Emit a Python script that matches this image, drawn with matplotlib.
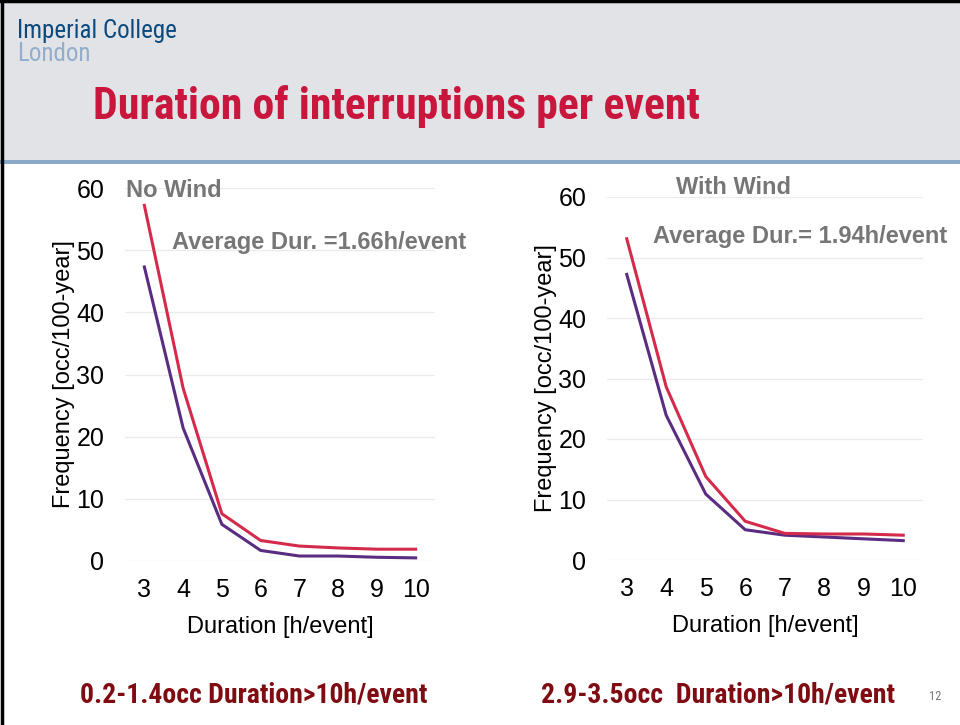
import matplotlib.pyplot as plt
from matplotlib.patches import Rectangle
from matplotlib.lines import Line2D

# durations [h/event]
durations = [3, 4, 5, 6, 7, 8, 9, 10]

# no wind
nowind_red = [57.2, 27.8, 7.6, 3.3, 2.4, 2.1, 1.9, 1.9]
nowind_purple = [47.3, 21.4, 5.9, 1.7, 0.8, 0.8, 0.6, 0.5]

# with wind
wind_red = [53.1, 28.6, 13.8, 6.4, 4.4, 4.3, 4.3, 4.1]
wind_purple = [47.2, 23.9, 10.9, 5.0, 4.1, 3.8, 3.5, 3.2]

plt.rcParams['font.family'] = ['Liberation Sans', 'DejaVu Sans']

RED = '#D42A4C'
PURPLE = '#5A2D82'
GREY = '#767676'
DARKRED = '#7E0C12'

fig = plt.figure(figsize=(9.6, 7.25), dpi=100)

# header band
fig.patches.append(Rectangle((0, 1 - 160 / 725), 1, 160 / 725, transform=fig.transFigure,
                             facecolor='#E1E3E7', edgecolor='none', zorder=0))
fig.patches.append(Rectangle((0, 1 - 164 / 725), 1, 4 / 725, transform=fig.transFigure,
                             facecolor='#8CA8C8', edgecolor='none', zorder=1))
# black slide border (top and left)
fig.lines.append(Line2D([0, 1], [0.998, 0.998], transform=fig.transFigure, color='black', lw=2.5))
fig.lines.append(Line2D([0.002, 0.002], [0, 1], transform=fig.transFigure, color='black', lw=2.5))

narrow = ['Roboto Condensed', 'DejaVu Sans']
fig.text(17 / 960, 1 - 31 / 725, 'Imperial College', family=narrow, fontsize=18,
         color='#0B4A7E', va='center', ha='left')
fig.text(17 / 960, 1 - 54 / 725, 'London', family=narrow, fontsize=18,
         color='#93AECB', va='center', ha='left')
fig.text(93 / 960, 1 - 106 / 725, 'Duration of interruptions per event', family=narrow,
         fontsize=31.5, fontweight='bold', color='#C8163C', va='center', ha='left')


def panel(rect, red, purple):
    ax = fig.add_axes(rect)
    ax.plot(durations, purple, color=PURPLE, lw=2.2)
    ax.plot(durations, red, color=RED, lw=2.2)
    ax.set_xlim(2.5, 10.5)
    ax.set_ylim(0, 60)
    ax.set_xticks(durations)
    ax.set_yticks(range(0, 61, 10))
    ax.grid(True, axis='y', color='#EBEBEB', lw=1)
    ax.set_axisbelow(True)
    for s in ax.spines.values():
        s.set_visible(False)
    ax.tick_params(length=0, labelsize=18, pad=12)
    ax.tick_params(axis='y', pad=15)
    ax.set_xlabel('Duration [h/event]', fontsize=17, labelpad=10)
    ax.set_ylabel('Frequency [occ/100-year]', fontsize=17, labelpad=1)
    return ax


ax1 = panel([125 / 960, 1 - 561 / 725, 310 / 960, 373 / 725], nowind_red, nowind_purple)
ax2 = panel([607 / 960, 1 - 560 / 725, 316 / 960, 363 / 725], wind_red, wind_purple)

fig.text(126 / 960, 1 - 190 / 725, 'No Wind', fontsize=17, fontweight='bold',
         color=GREY, va='center', ha='left')
fig.text(172 / 960, 1 - 242 / 725, 'Average Dur. =1.66h/event', fontsize=17,
         fontweight='bold', color=GREY, va='center', ha='left')
fig.text(676 / 960, 1 - 187 / 725, 'With Wind', fontsize=17, fontweight='bold',
         color=GREY, va='center', ha='left')
fig.text(653 / 960, 1 - 236 / 725, 'Average Dur.= 1.94h/event', fontsize=17,
         fontweight='bold', color=GREY, va='center', ha='left')

fig.text(80 / 960, 1 - 695 / 725, '0.2-1.4occ Duration>10h/event', family=narrow,
         fontsize=20, fontweight='bold', color=DARKRED, va='center', ha='left')
fig.text(541 / 960, 1 - 695 / 725, '2.9-3.5occ  Duration>10h/event', family=narrow,
         fontsize=20, fontweight='bold', color=DARKRED, va='center', ha='left')
fig.text(935 / 960, 1 - 697 / 725, '12', family=narrow, fontsize=9, color=GREY,
         va='center', ha='center')

fig.savefig('out.png', dpi=100)
